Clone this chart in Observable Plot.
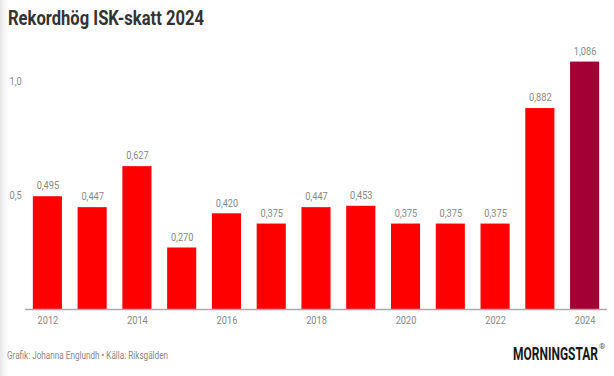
<!DOCTYPE html>
<html><head><meta charset="utf-8">
<script src="https://cdn.jsdelivr.net/npm/d3@7"></script>
<script src="https://cdn.jsdelivr.net/npm/@observablehq/plot@0.6"></script>
<style>
html,body{margin:0;padding:0;width:614px;height:376px;overflow:hidden;background:linear-gradient(to right,#e6e6e6 0px,#f7f7f7 5px,#fff 9px);}
.fit{position:absolute;white-space:nowrap;font-family:Roboto,sans-serif;transform-origin:0 0;}
#title{left:8px;top:6px;font-weight:bold;font-size:20px;color:#333;}
#chart{position:absolute;left:0;top:36px;}
#caption{left:7px;top:350px;font-size:10px;color:#888;}
#logo{left:513px;top:342px;font-weight:bold;font-size:19px;color:#1a1a1a;}
#reg{position:absolute;left:599px;top:342px;font-family:Roboto,sans-serif;font-size:8px;color:#555;}
</style></head>
<body>
<div id="title" class="fit" data-w="196">Rekordhög ISK-skatt 2024</div>
<div id="chart"></div>
<div id="caption" class="fit" data-w="161">Grafik: Johanna Englundh • Källa: Riksgälden</div>
<div id="logo" class="fit" data-w="85">MORNINGSTAR</div>
<div id="reg">®</div>
<script>
const years = [2012,2013,2014,2015,2016,2017,2018,2019,2020,2021,2022,2023,2024];
const values = [0.495,0.447,0.627,0.270,0.420,0.375,0.447,0.453,0.375,0.375,0.375,0.882,1.086];
const yTicks = [0.5, 1.0];
const data = years.map((y,i)=>({year:y, value:values[i], last: y===2024}));
const fmt = v => d3.format(".3f")(v).replace(".", ",");
const chart = Plot.plot({
  width: 614, height: 294,
  marginLeft: 25, marginRight: 7, marginTop: 11, marginBottom: 21,
  style: {fontFamily: "Roboto, sans-serif", fontSize: "11.5px", color: "#888", background: "transparent"},
  x: {type: "band", domain: years, paddingInner: 0.35, paddingOuter: 0.175, round: false, label: null, tickSize: 0, tickPadding: 6,
      tickFormat: d => d % 2 === 0 ? String(d) : ""},
  y: {domain: [0, 1.15], label: null, axis: null},
  marks: [
    Plot.barY(data, {x: "year", y: "value", fill: d => d.last ? "#a30036" : "#ff0000"}),
    Plot.text(data, {x: "year", y: "value", text: d => fmt(d.value), dy: -11, fill: "#888", fontSize: 11.5}),
    Plot.text(yTicks, {y: d => d, frameAnchor: "left", dx: -16, textAnchor: "start", text: d => d3.format(".1f")(d).replace(".", ","), fill: "#888", fontSize: 11.5}),
    Plot.ruleY([0], {stroke: "#aaa", strokeWidth: 1.5})
  ]
});
document.getElementById("chart").appendChild(chart);
// condense SVG text to mimic the narrow font of the reference
chart.querySelectorAll("text").forEach(t => {
  const L = t.getComputedTextLength();
  if (L > 0) { t.setAttribute("textLength", (L * 0.8).toFixed(2)); t.setAttribute("lengthAdjust", "spacingAndGlyphs"); }
});
document.querySelectorAll(".fit").forEach(el => {
  const w = el.getBoundingClientRect().width;
  const target = +el.dataset.w;
  el.style.transform = `scaleX(${target / w})`;
});
</script>
</body></html>
